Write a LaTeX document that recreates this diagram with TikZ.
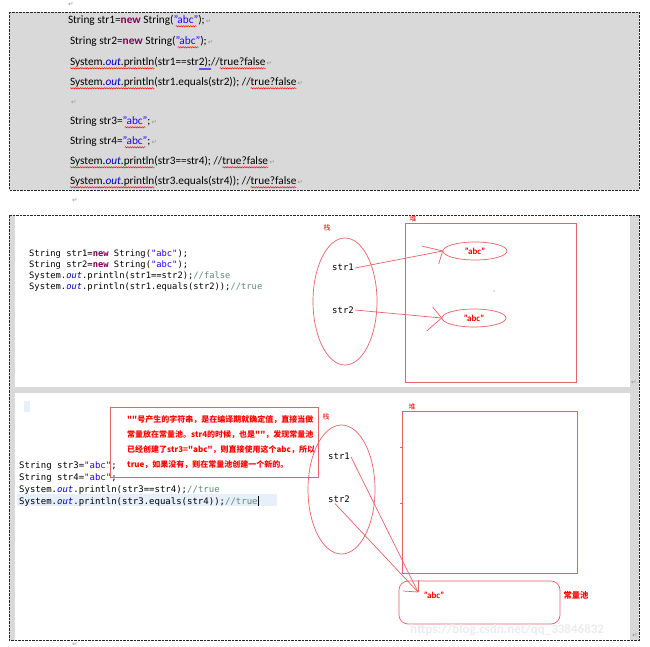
\documentclass[tikz,border=0pt]{standalone}
\usepackage{fontspec}
\setmainfont{Carlito}
\newfontfamily\codefont{DejaVu Sans Mono}
\newfontfamily\cjkfont{Noto Sans CJK SC}
\newfontfamily\symfont{DejaVu Sans}
\usetikzlibrary{shapes.geometric,decorations.pathmorphing}
\definecolor{kwcol}{RGB}{127,0,85}
\definecolor{strcol}{RGB}{42,0,255}
\definecolor{fldcol}{RGB}{0,0,192}
\definecolor{cmtcol}{RGB}{95,140,115}
\definecolor{pencol}{RGB}{232,98,104}
\definecolor{panelgray}{RGB}{217,217,217}
\definecolor{hlcol}{RGB}{230,239,250}
\definecolor{pmcol}{RGB}{150,150,150}
\begin{document}
\begin{tikzpicture}[x=1pt,y=-1pt,
  tw/.style={inner sep=0pt,outer sep=0pt,anchor=base west,font=\fontsize{11.3}{13}\selectfont},
  kw/.style={font=\fontsize{11.3}{13}\selectfont\bfseries,text=kwcol},
  st/.style={text=strcol},
  fl/.style={font=\fontsize{11.3}{13}\selectfont\itshape,text=fldcol},
  pm/.style={inner sep=0pt,anchor=base west,xshift=1pt,font=\symfont\fontsize{6.5}{7}\selectfont,text=pmcol},
  wavy/.style={draw=red,line width=0.45pt,decorate,decoration={snake,amplitude=0.7pt,segment length=2.4pt}},
  dashbox/.style={draw=black!85,line width=0.7pt,dash pattern=on 2.5pt off 1pt},
  cdA/.style={inner sep=0pt,anchor=base west,font=\codefont\fontsize{8.8}{10}\selectfont},
  cdB/.style={inner sep=0pt,anchor=base west,font=\codefont\fontsize{9}{10}\selectfont},
  var/.style={inner sep=1pt,font=\codefont\fontsize{9}{10}\selectfont},
  pen/.style={draw=pencol,line width=0.7pt},
  lbl/.style={inner sep=0pt,text=red,font=\cjkfont\fontsize{7}{8}\selectfont},
  abctxt/.style={inner sep=0pt,text=red,font=\fontsize{9}{10}\selectfont\bfseries},
  cn/.style={inner sep=0pt,anchor=base west,text=red,font=\cjkfont\bfseries\fontsize{8}{10}\selectfont}
]
\useasboundingbox (0,0) rectangle (650,647);
\fill[white] (0,0) rectangle (650,647);

% ---------- top box ----------
\fill[panelgray] (9,12) rectangle (639,190);
\draw[dashbox] (9,12) rectangle (639,190);
\node[pm] (pm0) at (67,7) {↵};

% line 1
\node[tw] (t1a) at (68,24) {String str1=};
\node[tw,kw] (t1b) at (t1a.base east) {new};
\node[tw] (t1c) at (t1b.base east) {\mbox{} String(};
\node[tw,st] (t1d) at (t1c.base east) {"abc"};
\node[tw] (t1e) at (t1d.base east) {);};
\node[pm] (pm1) at (t1e.base east) {↵};
\draw[wavy] ([xshift=2pt,yshift=-2.3pt]t1d.base west) -- ([xshift=-2pt,yshift=-2.3pt]t1d.base east);
% line 2
\node[tw] (t2a) at (70,45) {String str2=};
\node[tw,kw] (t2b) at (t2a.base east) {new};
\node[tw] (t2c) at (t2b.base east) {\mbox{} String(};
\node[tw,st] (t2d) at (t2c.base east) {"abc"};
\node[tw] (t2e) at (t2d.base east) {);};
\node[pm] (pm2) at (t2e.base east) {↵};
\draw[wavy] ([xshift=2pt,yshift=-2.3pt]t2d.base west) -- ([xshift=-2pt,yshift=-2.3pt]t2d.base east);
% line 3
\node[tw] (t3a) at (70,66) {System.};
\node[tw,fl] (t3b) at (t3a.base east) {out};
\node[tw] (t3c) at (t3b.base east) {.println};
\node[tw] (t3d) at (t3c.base east) {(str1==str};
\node[tw] (t3e) at (t3d.base east) {2);};
\node[tw] (t3f) at (t3e.base east) {//};
\node[tw] (t3g) at (t3f.base east) {true?false};
\node[pm] (pm3) at (t3g.base east) {↵};
\draw[wavy] ([yshift=-2.3pt]t3a.base west) -- ([yshift=-2.3pt]t3c.base east);
\draw[wavy] ([yshift=-2.3pt]t3g.base west) -- ([yshift=-2.3pt]t3g.base east);
\draw[strcol!70,line width=0.4pt] ([yshift=-1.8pt]t3e.base west) -- ([yshift=-1.8pt]t3e.base east);
\draw[strcol!70,line width=0.4pt] ([yshift=-3pt]t3e.base west) -- ([yshift=-3pt]t3e.base east);
% line 4
\node[tw] (t4a) at (70,86) {System.};
\node[tw,fl] (t4b) at (t4a.base east) {out};
\node[tw] (t4c) at (t4b.base east) {.println};
\node[tw] (t4d) at (t4c.base east) {(str1.equals(str2)); //};
\node[tw] (t4e) at (t4d.base east) {true?false};
\node[pm] (pm4) at (t4e.base east) {↵};
\draw[wavy] ([yshift=-2.3pt]t4a.base west) -- ([yshift=-2.3pt]t4c.base east);
\draw[wavy] ([yshift=-2.3pt]t4e.base west) -- ([yshift=-2.3pt]t4e.base east);
% line 5
\node[pm] (pm5) at (70,105) {↵};
% line 6
\node[tw] (t6a) at (70,125) {String str3=};
\node[tw,st] (t6b) at (t6a.base east) {"abc"};
\node[tw] (t6c) at (t6b.base east) {;};
\node[pm] (pm6) at (t6c.base east) {↵};
\draw[wavy] ([xshift=2pt,yshift=-2.3pt]t6b.base west) -- ([xshift=-2pt,yshift=-2.3pt]t6b.base east);
% line 7
\node[tw] (t7a) at (70,145) {String str4=};
\node[tw,st] (t7b) at (t7a.base east) {"abc"};
\node[tw] (t7c) at (t7b.base east) {;};
\node[pm] (pm7) at (t7c.base east) {↵};
\draw[wavy] ([xshift=2pt,yshift=-2.3pt]t7b.base west) -- ([xshift=-2pt,yshift=-2.3pt]t7b.base east);
% line 8
\node[tw] (t8a) at (70,165) {System.};
\node[tw,fl] (t8b) at (t8a.base east) {out};
\node[tw] (t8c) at (t8b.base east) {.println};
\node[tw] (t8d) at (t8c.base east) {(str3==str4); //};
\node[tw] (t8e) at (t8d.base east) {true?false};
\node[pm] (pm8) at (t8e.base east) {↵};
\draw[wavy] ([yshift=-2.3pt]t8a.base west) -- ([yshift=-2.3pt]t8c.base east);
\draw[wavy] ([yshift=-2.3pt]t8e.base west) -- ([yshift=-2.3pt]t8e.base east);
% line 9
\node[tw] (t9a) at (70,185) {System.};
\node[tw,fl] (t9b) at (t9a.base east) {out};
\node[tw] (t9c) at (t9b.base east) {.println};
\node[tw] (t9d) at (t9c.base east) {(str3.equals(str4)); //};
\node[tw] (t9e) at (t9d.base east) {true?false};
\node[pm] (pm9) at (t9e.base east) {↵};
\draw[wavy] ([yshift=-2.3pt]t9a.base west) -- ([yshift=-2.3pt]t9c.base east);
\draw[wavy] ([yshift=-2.3pt]t9e.base west) -- ([yshift=-2.3pt]t9e.base east);

\node[pm] (pm10) at (71,203) {↵};

% ---------- bottom box frame ----------
\fill[panelgray] (9,215) rectangle (15,640);
\fill[panelgray] (630,215) rectangle (639,640);
\fill[panelgray] (15,387) rectangle (630,393);
\draw[dashbox] (9,215) rectangle (639,640);
\node[pm] (pm11) at (630,384) {↵};
\node[pm] (pm12) at (631,637) {↵};
\node[pm] (pm13) at (71,646) {↵};

% ---------- panel 1 ----------
\node[cdA] (p1a) at (29,256) {String str1=\textcolor{kwcol}{\bfseries new} String(\textcolor{strcol}{"abc"});};
\node[cdA] (p1b) at (29,267.2) {String str2=\textcolor{kwcol}{\bfseries new} String(\textcolor{strcol}{"abc"});};
\node[cdA] (p1c) at (29,278.4) {System.\textcolor{fldcol}{\itshape out}.println(str1==str2);\textcolor{cmtcol}{//false}};
\node[cdA] (p1d) at (29,289.6) {System.\textcolor{fldcol}{\itshape out}.println(str1.equals(str2));\textcolor{cmtcol}{//true}};

\node[lbl] (stackLblA) at (327,228) {栈};
\node[pen,ellipse,minimum width=64,minimum height=127,inner sep=0pt] (stackA) at (345,301.5) {};
\node[var] (s1A) at (343,267) {str1};
\node[var] (s2A) at (343,310) {str2};
\node[lbl] (heapLblA) at (413,219) {堆};
\node[pen,minimum width=171,minimum height=159,inner sep=0pt] (heapA) at (490.5,302.5) {};
\node[pen,ellipse,minimum width=64,minimum height=18,inner sep=0pt,abctxt] (abcA) at (475,251) {"abc"};
\node[pen,ellipse,minimum width=64,minimum height=18,inner sep=0pt,abctxt] (abcB) at (474,318) {"abc"};
\draw[pen] ([yshift=-1pt]s1A.east) -- (abcA.west);
\draw[pen] (abcA.west) -- ++(-21,-5);
\draw[pen] (abcA.west) -- ++(-4,13);
\draw[pen] (s2A.east) -- (abcB.west);
\draw[pen] (abcB.west) -- ++(-9,-11);
\draw[pen] (abcB.west) -- ++(-15,13);
\fill[pencol] (494,291) circle (0.6);

% ---------- panel 2 ----------
\fill[hlcol] (24,401) rectangle (30,412);
\fill[hlcol] (17,494) rectangle (277,506);
\node[cdB] (p2a) at (19,468) {String str3=\textcolor{strcol}{"abc"};};
\node[cdB] (p2b) at (19,480) {String str4=\textcolor{strcol}{"abc"};};
\node[cdB] (p2c) at (19,492) {System.\textcolor{fldcol}{\itshape out}.println(str3==str4);\textcolor{cmtcol}{//true}};
\node[cdB] (p2d) at (19,504) {System.\textcolor{fldcol}{\itshape out}.println(str3.equals(str4));\textcolor{cmtcol}{//true}};
\draw[black,line width=0.8pt] ([xshift=0.8pt,yshift=-1.5pt]p2d.base east) -- ++(0,-10);

\node[pen,minimum width=208,minimum height=70,inner sep=0pt] (note) at (214,442) {};
\node[cn] (n1) at (127,422.5) {""号产生的字符串，是在编译期就确定值，直接当做};
\node[cn] (n2) at (127,437.5) {常量放在常量池。str4的时候，也是""，发现常量池};
\node[cn] (n3) at (127,452.5) {已经创建了str3="abc"，则直接使用这个abc，所以};
\node[cn] (n4) at (127,467.5) {true，如果没有，则在常量池创建一个新的。};

\node[lbl] (stackLblB) at (326,417) {栈};
\node[pen,ellipse,minimum width=67,minimum height=129,inner sep=0pt] (stackB) at (341.5,489.5) {};
\node[var] (s1B) at (339,456) {str1};
\node[var] (s2B) at (339,499) {str2};
\node[lbl] (heapLblB) at (412,407) {堆};
\node[pen,minimum width=175,minimum height=162,inner sep=0pt] (heapB) at (489.5,492) {};
\draw[pen] (400,447) -- (403,447);
\draw[pen] (400,503) -- (403,503);
\node[pen,rounded corners=9pt,minimum width=161,minimum height=43,inner sep=0pt] (pool) at (479.5,602.5) {};
\node[abctxt] (abcC) at (434,595) {"abc"};
\node[lbl,font=\cjkfont\bfseries\fontsize{8.3}{9}\selectfont] (poolLbl) at (576,595) {常量池};
\coordinate (tipC) at (418,592);
\draw[pen] ([yshift=-1pt]s1B.east) -- (tipC);
\draw[pen] ([xshift=-4pt]s2B.south) -- (tipC);
\draw[pen] (tipC) -- ++(0,-12);
\draw[pen] (tipC) -- ++(-15,-1);

\node[inner sep=0pt,anchor=base west,text=gray!15,font=\fontsize{13}{14}\selectfont\bfseries] (wm) at (410,633) {https://blog.csdn.net/qq\_33846832};
\end{tikzpicture}
\end{document}
